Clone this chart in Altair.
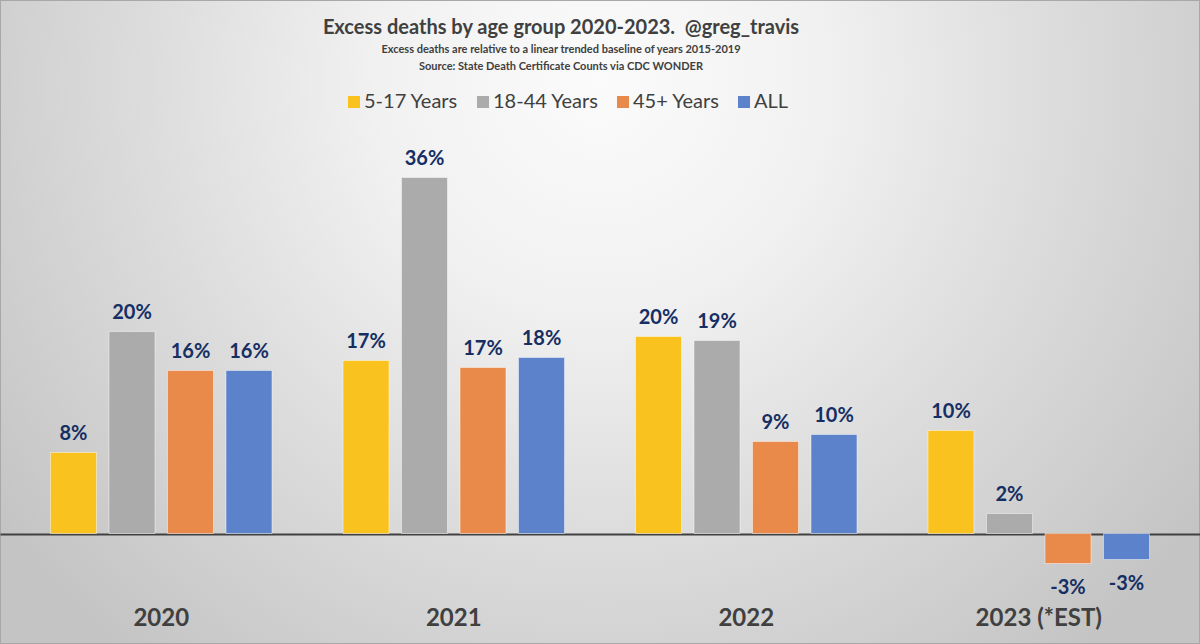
import altair as alt
import pandas as pd

years = ["2020", "2021", "2022", "2023 (*EST)"]
groups = ["5-17 Years", "18-44 Years", "45+ Years", "ALL"]
v_5_17 = [0.081, 0.173, 0.197, 0.103]
v_18_44 = [0.202, 0.356, 0.193, 0.020]
v_45_plus = [0.163, 0.166, 0.092, -0.030]
v_all = [0.163, 0.176, 0.099, -0.026]
colors = ["#F9C21F", "#ABABAB", "#EA8A4A", "#5B82CA"]

rows = []
for g, vals in zip(groups, [v_5_17, v_18_44, v_45_plus, v_all]):
    for y, v in zip(years, vals):
        rows.append({"year": y, "group": g, "value": v})
df = pd.DataFrame(rows)

FONT = "Lato"
W, H = 1200, 644

bg_expr = ("{gradient: 'radial', x1: 0.5, y1: 0.3, r1: 0, x2: 0.5, y2: 0.3, r2: 0.62, "
           "stops: [{offset: 0, color: '#fbfbfb'}, {offset: 0.3, color: '#f1f1f1'}, "
           "{offset: 0.6, color: '#dddddd'}, {offset: 1, color: '#c4c4c4'}]}")

base = alt.Chart(df).encode(
    x=alt.X("year:N", sort=years, title=None,
            scale=alt.Scale(paddingInner=0.2, paddingOuter=0.1513),
            axis=alt.Axis(labelAngle=0, domain=False, ticks=False, labelFontSize=24,
                          labelFont=FONT, labelFontWeight="bold", labelColor="#404040",
                          labelPadding=7, offset=-45, zindex=1)),
    xOffset=alt.XOffset("group:N", sort=groups,
                        scale=alt.Scale(paddingInner=0.214, paddingOuter=0.107)),
    y=alt.Y("value:Q",
            scale=alt.Scale(domain=[-0.1105, 0.5335], nice=False, zero=False),
            axis=alt.Axis(values=[0], grid=True, gridColor="#404040", gridWidth=2,
                          labels=False, ticks=False, domain=False, title=None)),
)

bars = base.mark_bar(stroke="#ffffff", strokeWidth=1, strokeOpacity=0.45).encode(
    color=alt.Color("group:N", sort=groups,
                    scale=alt.Scale(domain=groups, range=colors),
                    legend=alt.Legend(title=None, orient="none", legendX=344, legendY=92,
                                      direction="horizontal", symbolType="square",
                                      symbolSize=144, symbolStrokeWidth=0,
                                      labelFontSize=20, labelFont=FONT,
                                      labelColor="#404040", columnPadding=14,
                                      labelOffset=0)),
)

lab_expr = "(datum.value < 0 ? '-' : '') + format(abs(datum.value), '.0%')"
pos_labels = base.transform_filter("datum.value >= 0").transform_calculate(
    lab=lab_expr).mark_text(dy=-13, baseline="alphabetic", font=FONT, fontSize=20,
                            fontWeight="bold", color="#152E63").encode(text="lab:N")
neg_labels = base.transform_filter("datum.value < 0").transform_calculate(
    lab=lab_expr).mark_text(dy=14, baseline="top", font=FONT, fontSize=20,
                            fontWeight="bold", color="#152E63").encode(text="lab:N")

chart = alt.layer(bars, pos_labels, neg_labels).properties(
    width=W, height=H,
    autosize=alt.AutoSizeParams(type="none"),
    padding=0,
    background="#dcdcdc",
    view=alt.ViewBackground(fill={"expr": bg_expr}, stroke="#a8a8a8", strokeWidth=2),
    title=alt.Title(
        "Excess deaths by age group 2020-2023.\u00a0 @greg_travis",
        subtitle=["Excess deaths are relative to a linear trended baseline of years 2015-2019",
                  "Source: State Death Certificate Counts via CDC WONDER"],
        anchor="middle", dx=-39, font=FONT, fontSize=20, fontWeight="bold", color="#404040",
        subtitleFont=FONT, subtitleFontSize=11, subtitleFontWeight="bold",
        subtitleColor="#404040", subtitleLineHeight=17.5, subtitlePadding=6, offset=-72,
    ),
)

chart.save("out.html", embed_options={"renderer": "svg", "actions": False})
